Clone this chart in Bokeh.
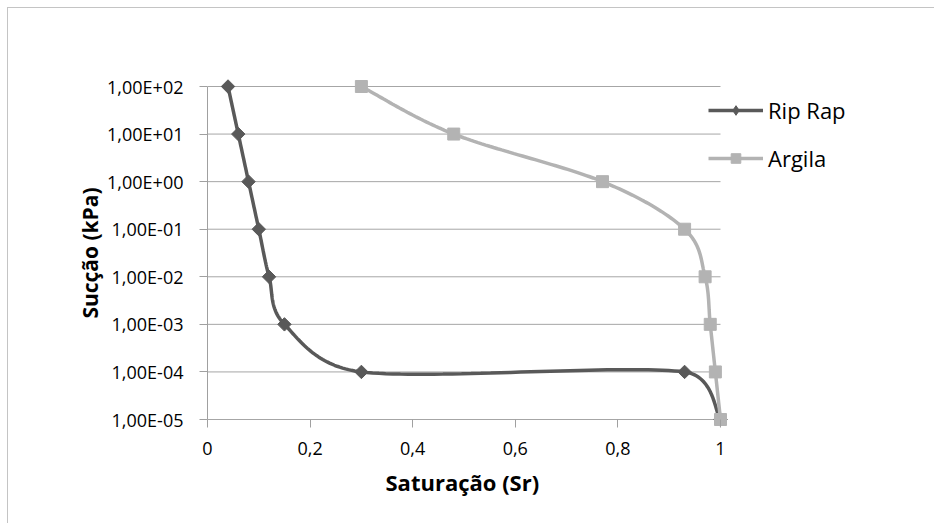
import numpy as np
from bokeh.plotting import figure
from bokeh.models import Range1d, FixedTicker, Legend, LegendItem, Title
from bokeh.embed import file_html
from bokeh.resources import INLINE

# ---------------- data ----------------
riprap_sr = [0.04, 0.06, 0.08, 0.10, 0.12, 0.15, 0.30, 0.93, 1.00]
riprap_suc = [1e2, 1e1, 1e0, 1e-1, 1e-2, 1e-3, 1e-4, 1e-4, 1e-5]
argila_sr = [0.30, 0.48, 0.77, 0.93, 0.97, 0.98, 0.99, 1.00]
argila_suc = [1e2, 1e1, 1e0, 1e-1, 1e-2, 1e-3, 1e-4, 1e-5]

x_ticks = [0.0, 0.2, 0.4, 0.6, 0.8, 1.0]
x_tick_labels = ["0", "0,2", "0,4", "0,6", "0,8", "1"]
y_ticks = [1e-5, 1e-4, 1e-3, 1e-2, 1e-1, 1e0, 1e1, 1e2]
y_tick_labels = ["1,00E-05", "1,00E-04", "1,00E-03", "1,00E-02",
                 "1,00E-01", "1,00E+00", "1,00E+01", "1,00E+02"]
series_names = ["Rip Rap", "Argila"]
x_title = "Saturação (Sr)"
y_title = "Sucção (kPa)"

# ---------------- layout constants ----------------
FW, FH = 513.0, 333.0          # data area size in px
SX = FW / (x_ticks[-1] - x_ticks[0])
SY = FH / (np.log10(y_ticks[-1]) - np.log10(y_ticks[0]))
PAD = 8.0                      # room above / below data area so edge markers show whole
EXTRA_R = 140.0                # room right of data area (holds the legend)

x0, x1 = x_ticks[0], x_ticks[-1]
y0, y1 = y_ticks[0], y_ticks[-1]
xr = Range1d(x0, x1 + EXTRA_R / SX)
yr = Range1d(y0 * 10 ** (-PAD / SY), y1 * 10 ** (PAD / SY))


def smooth(xs, ys, n=40, clamp=0.5):
    """Excel-like smoothed line through the points, in screen-proportional space."""
    P = np.column_stack([np.asarray(xs) * SX, np.log10(ys) * SY])
    pts = [P[0]]
    m = len(P)

    def lim(v, d):
        L = np.linalg.norm(v)
        return v * (clamp * d / L) if L > clamp * d and L > 0 else v

    for i in range(m - 1):
        p0 = P[i - 1] if i > 0 else P[i]
        p1, p2 = P[i], P[i + 1]
        p3 = P[i + 2] if i + 2 < m else P[i + 1]
        d12 = np.linalg.norm(p2 - p1)
        c1 = p1 + lim((p2 - p0) / 6.0, d12)
        c2 = p2 - lim((p3 - p1) / 6.0, d12)
        t = np.linspace(0, 1, n)[1:, None]
        seg = ((1 - t) ** 3) * p1 + 3 * ((1 - t) ** 2) * t * c1 + 3 * (1 - t) * t ** 2 * c2 + t ** 3 * p2
        pts.extend(seg)
    pts = np.array(pts)
    return pts[:, 0] / SX, 10 ** (pts[:, 1] / SY)


p = figure(width=927, height=516, x_range=xr, y_range=yr, y_axis_type="log",
           output_backend="svg", toolbar_location=None,
           min_border_left=199, min_border_right=927 - 199 - int(FW + EXTRA_R),
           min_border_top=70, min_border_bottom=97)
p.outline_line_color = None
p.background_fill_color = "white"
p.border_fill_color = "white"
p.styles = {"margin-left": "7px", "margin-top": "7px",
            "border-top": "1px solid #c4c4c4", "border-left": "1px solid #c4c4c4"}

FONT = "Open Sans"
AXC = "#a0a0a0"
GRIDC = "#a6a6a6"

# horizontal grid lines, only across the data area
p.xgrid.visible = False
p.ygrid.visible = False
p.segment(x0=[x0] * len(y_ticks), y0=y_ticks, x1=[x1] * len(y_ticks), y1=y_ticks,
          line_color=GRIDC, line_width=1)

# x axis (its line is the bottom grid line)
xa = p.xaxis[0]
xa.ticker = FixedTicker(ticks=x_ticks)
xa.major_label_overrides = {float(k): v for k, v in zip(x_ticks, x_tick_labels)}
xa.bounds = (x0, x1)
xa.axis_line_color = None
xa.major_tick_line_color = AXC
xa.major_tick_out = 0
xa.major_tick_in = 8
xa.minor_tick_line_color = None
xa.major_label_text_font = FONT
xa.major_label_text_font_size = "18px"
xa.major_label_text_color = "black"
xa.major_label_standoff = 14

# x title, placed under the data area
p.add_layout(Title(text=x_title, align="left", offset=178, standoff=14,
                   text_font=FONT, text_font_size="22px", text_font_style="bold",
                   text_color="black"), "below")

# y axis
ya = p.yaxis[0]
ya.ticker = FixedTicker(ticks=y_ticks)
ya.major_label_overrides = {float(k): v for k, v in zip(y_ticks, y_tick_labels)}
ya.bounds = (y0, y1)
ya.axis_line_color = AXC
ya.major_tick_line_color = AXC
ya.major_tick_out = 8
ya.major_tick_in = 0
ya.minor_tick_line_color = None
ya.major_label_text_font = FONT
ya.major_label_text_font_size = "18px"
ya.major_label_text_color = "black"
ya.major_label_standoff = 16
ya.axis_label = y_title
ya.axis_label_text_font = FONT
ya.axis_label_text_font_style = "bold"
ya.axis_label_text_font_size = "21px"
ya.axis_label_text_color = "black"
ya.axis_label_standoff = 0

# series
rx, ry = smooth(riprap_sr, riprap_suc)
ax_, ay_ = smooth(argila_sr, argila_suc)

c_rr, c_ar = "#595959", "#b3b3b3"
l1 = p.line(rx, ry, line_color=c_rr, line_width=3.5)
m1 = p.scatter(riprap_sr, riprap_suc, marker="square", size=9.5, angle=np.pi / 4,
               fill_color=c_rr, line_color=c_rr)
l2 = p.line(ax_, ay_, line_color=c_ar, line_width=3.5)
m2 = p.scatter(argila_sr, argila_suc, marker="square", size=12,
               fill_color=c_ar, line_color=c_ar)
# legend swatch for the diamond (legend glyphs ignore rotation)
k1 = p.scatter([np.nan], [np.nan], marker="diamond", size=15,
               fill_color=c_rr, line_color=c_rr)

legend = Legend(items=[LegendItem(label=series_names[0], renderers=[l1, k1]),
                       LegendItem(label=series_names[1], renderers=[l2, m2])],
                location=(501, 254), orientation="vertical")
legend.glyph_width = 55
legend.glyph_height = 24
legend.label_height = 24
legend.spacing = 18
legend.padding = 0
legend.margin = 0
legend.label_standoff = 5
legend.border_line_color = None
legend.background_fill_alpha = 0
legend.label_text_font = FONT
legend.label_text_font_size = "22px"
legend.label_text_color = "black"
legend.label_text_baseline = "middle"
p.add_layout(legend, "center")

open("out.html", "w").write(file_html(p, INLINE))
